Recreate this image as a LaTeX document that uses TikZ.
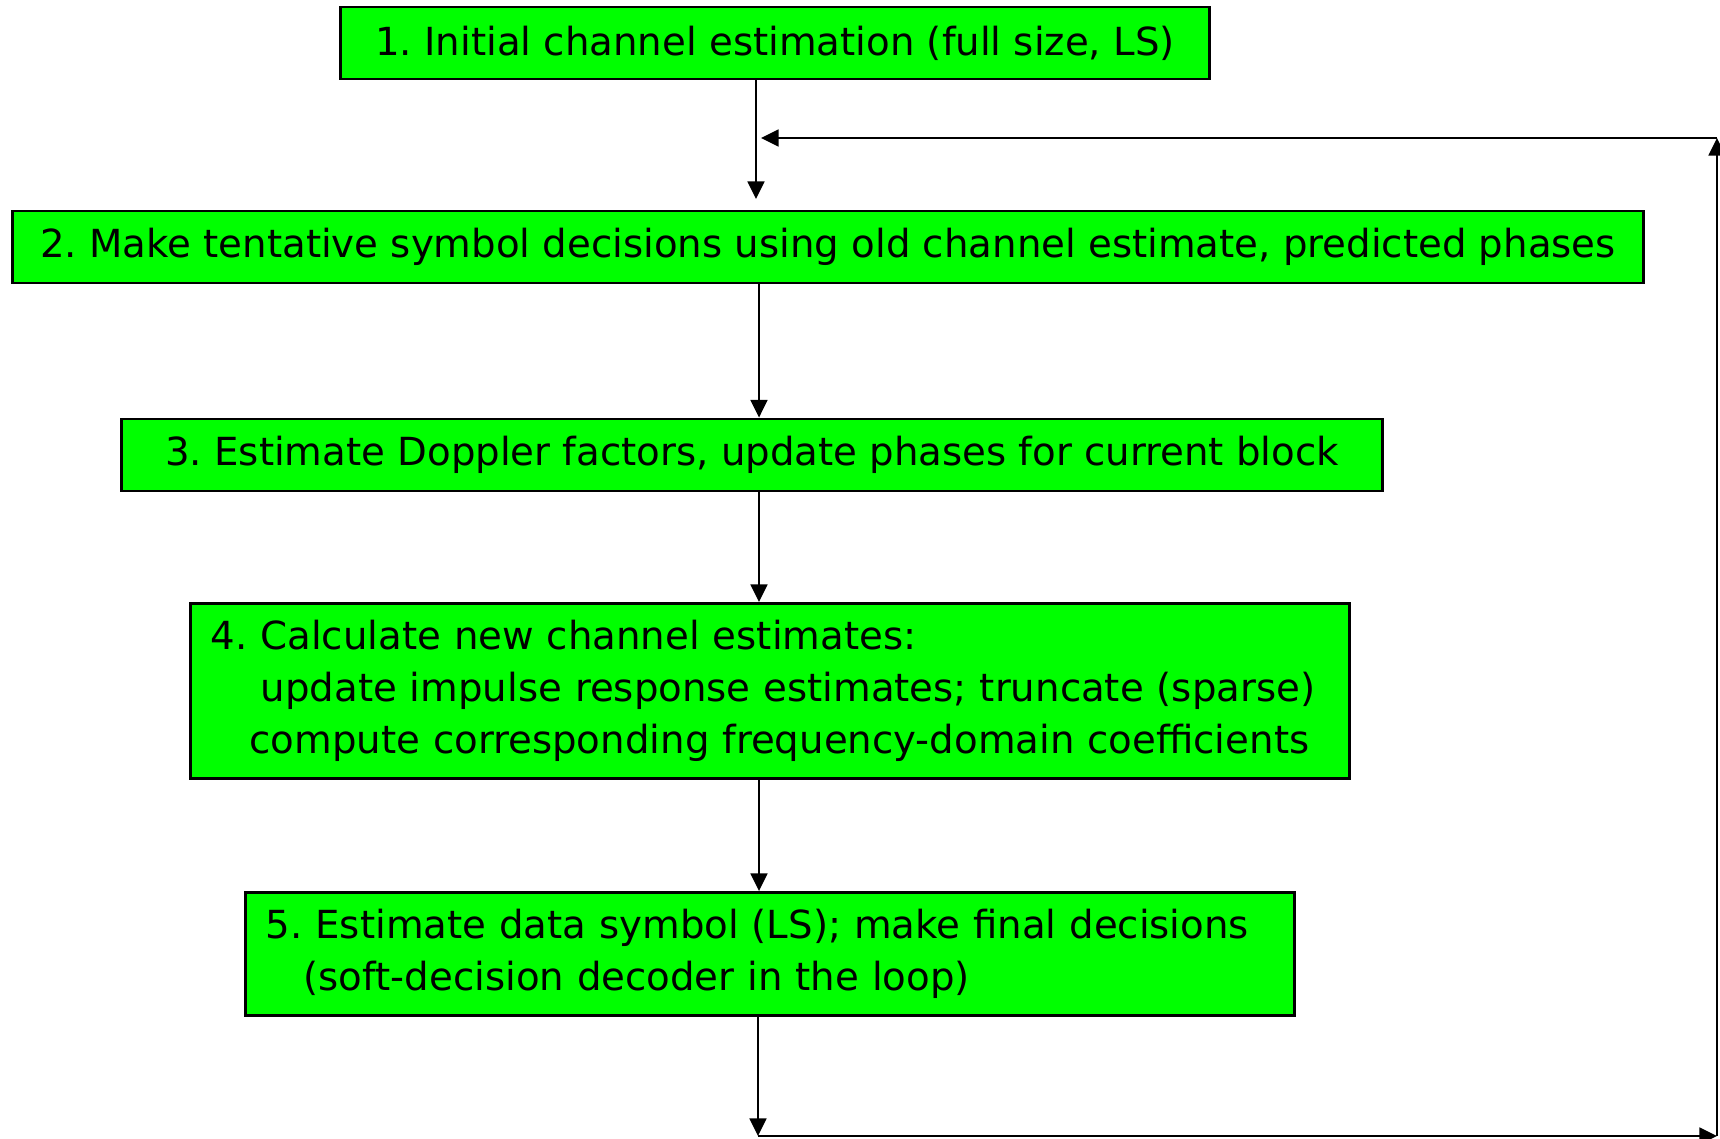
\documentclass[tikz,border=0pt]{standalone}
\usepackage{fontspec}
\setmainfont{DejaVu Sans}
\usetikzlibrary{arrows.meta,calc,positioning}
\definecolor{boxgreen}{RGB}{0,255,0}
\frenchspacing
\hyphenpenalty=10000

\tikzset{
  stepbox/.style={draw,fill=boxgreen,line width=0.8pt,inner sep=0pt,
    font=\fontsize{11}{14.7}\selectfont},
  arr/.style={line width=0.6pt,-{Triangle[width=4.8pt,length=5pt]}}
}

\begin{document}
\begin{tikzpicture}[x=0.01cm,y=-0.01cm]

    \useasboundingbox (0,0) rectangle (1720,1139);

    \node [stepbox,minimum width=8.68cm,minimum height=0.72cm] (s1) at (775,43)
        {1. Initial channel estimation (full size, LS)};
    \node [stepbox,minimum width=16.30cm,minimum height=0.72cm] (s2) at (828,247)
        {2. Make tentative symbol decisions using old channel estimate, predicted phases};
    \node [stepbox,minimum width=12.60cm,minimum height=0.72cm] (s3) at (752,455)
        {3. Estimate Doppler factors, update phases for current block};
    \node [stepbox,minimum width=11.58cm,minimum height=1.75cm,inner xsep=0.2cm,
           text width=11.18cm,align=left] (s4) at (770,691)
        {4. Calculate new channel estimates:\\
         \hspace*{0.5cm}update impulse response estimates; truncate (sparse)\\
         \hspace*{0.39cm}compute corresponding frequency-domain coefficients};
    \node [stepbox,minimum width=10.48cm,minimum height=1.23cm,inner xsep=0.2cm,
           text width=10.08cm,align=left] (s5) at (770,954)
        {5. Estimate data symbol (LS); make final decisions\\
         \hspace*{0.38cm}(soft-decision decoder in the loop)};

    \coordinate (join) at (761,138);
    \coordinate (top) at (1717,138);
    \coordinate (bot) at (758,1136);
    \coordinate (corner) at (1717,1136);

    \draw [arr] (s1.south -| 756,0) -- (756,199);
    \draw [arr] (s2.south -| 759,0) -- (s3.north -| 759,0);
    \draw [arr] (s3.south -| 759,0) -- (s4.north -| 759,0);
    \draw [arr] (s4.south -| 759,0) -- (s5.north -| 759,0);

    \draw [arr] (s5.south -| bot) -- (bot);
    \draw [arr] (bot) -- (corner);
    \draw [arr] (corner) -- (top);
    \draw [arr] (top) -- (join);
\end{tikzpicture}
\end{document}
